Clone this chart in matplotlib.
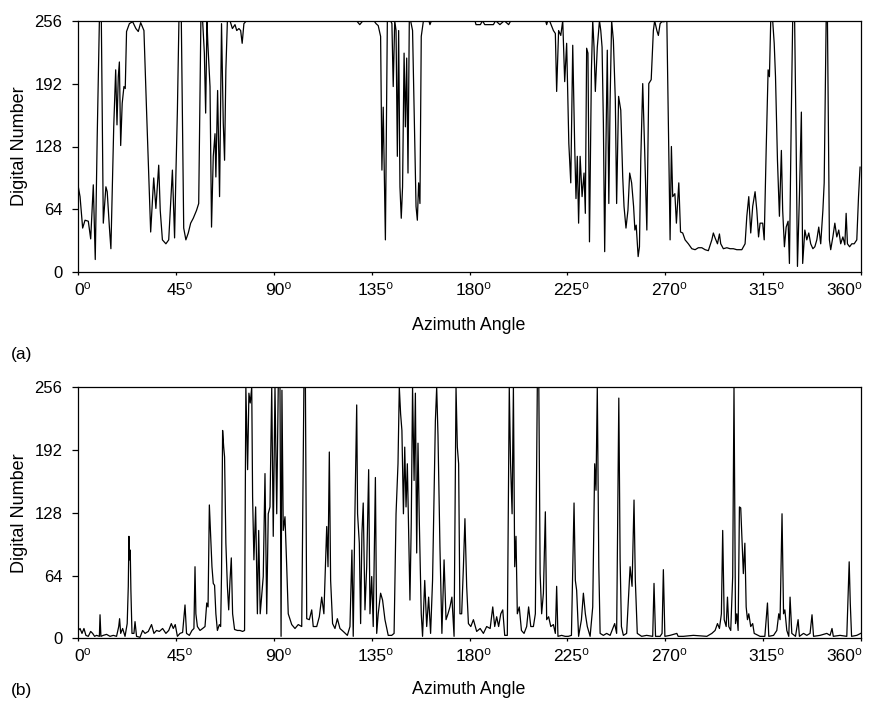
import numpy as np
import matplotlib
matplotlib.use("Agg")
import matplotlib.pyplot as plt
import matplotlib.transforms as mtransforms

plt.rcParams['font.family'] = ['Liberation Sans', 'DejaVu Sans']

# (a) azimuth angle (deg) / digital number
angle_a = [0, 0.8, 2.0, 3.1, 4.6, 5.7, 6.9, 7.8, 8.7, 9.7, 10.6, 11.5, 12.7, 13.3, 14.3, 15.0,
           16.3, 17.2, 17.8, 18.4, 18.9, 19.5, 20.2, 21.0, 21.6, 22.2, 23.5, 25.0, 26.5, 27.6,
           28.7, 30.2, 31.4, 33.3, 34.7, 35.7, 37.0, 37.7, 38.7, 40.3, 41.6, 43.3, 44.3, 44.9,
           45.6, 46.3, 47.4, 48.5, 49.5, 50.6, 51.7, 52.9, 54.4, 55.4, 56.4, 57.2, 58.0, 58.6,
           59.2, 59.6, 60.6, 61.3, 62.1, 62.9, 63.3, 64.1, 65.0, 65.9, 66.7, 67.3, 67.9, 68.6,
           69.8, 70.9, 72.1, 72.9, 73.9, 74.7, 75.4, 76.2, 77.4, 100, 128, 129.5, 131, 136,
           137, 138.0, 139.1, 139.7, 140.3, 141.3, 142.2, 143.1, 143.7, 144.3, 144.9, 145.6,
           146.2, 146.8, 147.4, 148.0, 148.6, 149.2, 149.9, 150.5, 151.1, 151.7, 152.3, 152.9,
           153.8, 154.8, 155.4, 156.0, 156.6, 157.2, 157.8, 158.8, 161.3, 161.8, 162.5, 182.5,
           183, 185, 186, 187, 191, 192, 194, 196, 198, 199, 215, 215.5, 216, 217.0, 218.6,
           219.5, 220.1, 221.0, 222.0, 222.9, 223.8, 224.7, 225.7, 226.6, 227.5, 228.4, 229.0,
           229.6, 230.2, 230.9, 231.8, 232.7, 233.3, 233.9, 234.5, 235.2, 236.1, 236.7, 237.3,
           237.9, 238.8, 239.8, 240.4, 241.0, 241.6, 242.2, 242.8, 243.4, 244.1, 244.7, 245.4,
           246.2, 247.1, 247.7, 248.6, 249.6, 250.5, 251.1, 252.0, 252.9, 253.7, 254.6, 255.5,
           256.1, 256.7, 257.6, 258.2, 258.8, 259.7, 260.6, 261.6, 262.5, 263.6, 264.6, 265.2,
           266.2, 266.9, 267.7, 268.5, 269.5, 270.8, 271.4, 272.3, 272.9, 273.5, 274.5, 275.2,
           276.3, 277.1, 278.1, 279.2, 280.7, 282.3, 283.8, 285.3, 286.9, 288.4, 289.9, 291.5,
           292.2, 293.0, 294.1, 295.0, 295.6, 296.8, 298.4, 299.9, 301.4, 303.0, 305.3, 306.8,
           307.6, 308.5, 309.4, 310.3, 311.4, 312.2, 313.0, 313.7, 314.9, 315.6, 316.5, 317.4,
           318.0, 318.6, 319.5, 320.2, 320.8, 321.7, 322.6, 323.5, 324.1, 324.9, 325.7, 326.6,
           327.2, 328.1, 328.7, 329.6, 330.3, 330.9, 331.8, 332.7, 333.3, 334.3, 335.2, 336.1,
           337.0, 338.0, 338.9, 339.8, 340.7, 341.6, 342.6, 343.2, 344.1, 344.7, 345.6, 346.2,
           347.2, 348.1, 349.0, 349.9, 350.8, 351.8, 352.7, 353.3, 353.9, 354.9, 355.9, 357.0,
           358.2, 359.0, 359.7]
dn_a = [87, 77, 45, 53, 52, 34, 89, 13, 138, 256, 256, 50, 87, 82, 46, 24,
        148, 206, 150, 199, 214, 129, 172, 189, 187, 245, 253, 255, 248, 245,
        254, 246, 165, 41, 96, 65, 109, 63, 33, 29, 33, 104, 35, 99,
        165, 256, 256, 45, 33, 40, 50, 55, 63, 70, 256, 256, 223, 162,
        256, 233, 189, 46, 118, 141, 97, 185, 77, 253, 152, 114, 206, 256,
        256, 248, 252, 246, 248, 246, 233, 253, 256, 256, 256, 252, 256, 256,
        253, 251, 240, 104, 168, 33, 256, 256, 256, 253, 189, 256,
        246, 118, 246, 87, 55, 87, 223, 148, 218, 101, 256, 256,
        246, 131, 67, 53, 91, 70, 240, 256, 256, 252, 256, 256,
        252, 252, 256, 252, 252, 256, 252, 256, 252, 256, 256, 252, 256, 255, 246,
        243, 184, 246, 241, 256, 194, 233, 131, 91, 231, 128, 75,
        118, 50, 118, 77, 101, 60, 228, 223, 31, 206, 256, 229,
        184, 229, 256, 246, 229, 152, 21, 131, 226, 70, 175, 256,
        236, 175, 70, 179, 165, 97, 67, 45, 63, 101, 91, 67,
        43, 48, 16, 26, 114, 192, 124, 43, 192, 196, 246, 256,
        246, 241, 253, 255, 255, 256, 165, 33, 128, 77, 80, 50,
        91, 41, 40, 33, 29, 24, 23, 25, 25, 23, 22, 33,
        40, 35, 29, 39, 29, 24, 25, 24, 24, 23, 23, 29,
        57, 77, 40, 67, 82, 63, 36, 50, 50, 33, 124, 206,
        199, 256, 256, 233, 199, 114, 57, 124, 63, 26, 46, 52,
        9, 165, 256, 256, 131, 6, 77, 163, 9, 43, 33, 40,
        29, 24, 26, 33, 46, 29, 63, 91, 256, 256, 33, 23,
        36, 50, 36, 43, 29, 36, 28, 60, 29, 26, 29, 29,
        33, 77, 107]

# (b)
angle_b = [0, 0.8, 1.7, 2.6, 3.5, 4.6, 5.7, 6.6, 7.5, 8.4, 9.7, 10.0, 10.4, 11.5, 13.0, 14.6,
           16.1, 17.6, 18.6, 19.0, 19.5, 20.4, 21.5, 22.5, 23.0, 23.3, 23.6, 23.9, 24.2, 24.7,
           25.6, 26.1, 26.8, 28.4, 29.6, 30.7, 32.2, 33.7, 34.8, 36.0, 37.3, 38.8, 40.3, 41.6,
           42.8, 43.7, 44.6, 45.6, 46.8, 48.0, 49.1, 49.8, 51.1, 52.3, 53.2, 53.7, 54.1, 54.8,
           56.0, 57.2, 58.3, 59.1, 59.7, 60.3, 60.9, 61.5, 62.1, 62.7, 63.3, 64.0, 64.9, 65.5,
           65.9, 66.4, 66.9, 67.3, 67.9, 68.6, 69.2, 69.8, 70.4, 71.0, 71.9, 73.2, 74.4, 75.6,
           76.5, 77.1, 77.9, 78.5, 79.1, 79.8, 80.2, 80.8, 81.6, 82.4, 83.0, 83.7, 85.1, 85.9,
           86.7, 87.4, 88.2, 89.0, 89.7, 90.5, 91.3, 92.0, 92.8, 93.3, 93.7, 94.3, 95.1, 95.9,
           96.6, 98.2, 99.7, 101.2, 102.8, 103.8, 104.5, 105.1, 106.3, 107.4, 108.1, 109.7,
           110.9, 112.0, 113.0, 114.3, 114.9, 115.5, 116.1, 117.0, 118.1, 119.2, 120.4, 121.9,
           123.8, 125.0, 125.9, 126.5, 127.2, 128.1, 128.5, 129.3, 129.9, 130.5, 131.1, 131.9,
           132.7, 133.6, 134.2, 135.0, 135.7, 136.7, 137.3, 138.0, 139.1, 140.0, 141.1, 142.6,
           144.2, 145.3, 146.2, 147.1, 147.7, 148.3, 148.9, 149.6, 150.2, 150.8, 151.4, 152.0,
           152.6, 153.2, 153.8, 154.5, 155.1, 155.7, 156.3, 156.9, 157.8, 158.4, 159.4, 160.3,
           161.2, 162.1, 163.0, 163.7, 164.3, 164.9, 165.5, 166.4, 167.3, 168.3, 169.2, 170.1,
           171.0, 171.9, 172.9, 173.8, 174.4, 175.0, 175.6, 176.4, 177.2, 177.9, 178.7, 179.5,
           180.6, 181.8, 183.3, 184.9, 186.4, 187.9, 189.5, 190.7, 191.6, 192.5, 193.4, 194.4,
           195.3, 196.2, 197.4, 198.3, 198.9, 199.6, 200.2, 200.8, 201.4, 202.0, 202.9, 203.9,
           205.1, 206.3, 207.2, 208.2, 209.4, 210.3, 211.2, 211.9, 212.5, 213.2, 214.0, 214.9,
           215.5, 216.4, 217.4, 218.6, 219.5, 220.1, 220.7, 222.4, 224.0, 225.5, 226.9, 228.1,
           228.7, 229.3, 230.2, 231.5, 232.4, 233.3, 234.2, 235.5, 236.7, 237.6, 238.2, 238.8,
           239.5, 240.1, 241.6, 243.1, 244.7, 246.8, 247.7, 248.7, 249.3, 249.9, 250.8, 252.3,
           253.9, 254.8, 255.7, 256.3, 257.2, 259.2, 261.5, 264.3, 264.9, 265.6, 267.7, 268.6,
           269.2, 269.9, 272.3, 275.4, 276.0, 278.4, 283.0, 289.2, 291.5, 293.0, 294.1, 295.0,
           295.9, 296.5, 297.2, 298.1, 298.7, 299.3, 300.2, 301.1, 301.7, 302.4, 303.0, 303.6,
           304.2, 304.8, 305.4, 306.0, 306.7, 307.3, 307.9, 308.5, 309.4, 310.3, 311.0, 313.7,
           315.9, 317.1, 317.7, 319.9, 321.4, 322.3, 322.9, 323.8, 324.5, 325.1, 326.0, 326.9,
           327.5, 328.3, 330.0, 331.2, 331.8, 333.7, 335.2, 336.7, 337.6, 338.3, 341.3, 344.4,
           345.9, 346.8, 347.4, 350.5, 353.6, 354.7, 355.2, 355.8, 358.2, 360.0]
dn_b = [8, 10, 5, 10, 3, 2, 7, 5, 2, 3, 2, 24, 2, 3, 4, 2,
        3, 2, 12, 20, 5, 10, 2, 15, 53, 104, 80, 90, 49, 5,
        5, 17, 2, 1, 8, 5, 7, 14, 5, 8, 7, 10, 5, 8,
        15, 10, 14, 2, 5, 6, 34, 5, 3, 8, 10, 73, 25, 12,
        8, 10, 12, 36, 32, 136, 104, 73, 56, 54, 25, 8, 14, 12,
        66, 212, 195, 185, 97, 53, 29, 59, 82, 25, 9, 8, 8, 7,
        8, 256, 172, 250, 240, 256, 144, 80, 134, 25, 110, 25, 63, 168,
        25, 127, 134, 256, 104, 256, 127, 256, 256, 2, 253, 110, 124, 73,
        25, 14, 10, 14, 12, 256, 256, 20, 19, 29, 12, 12,
        22, 42, 25, 114, 73, 190, 59, 15, 10, 20, 10, 7,
        3, 12, 90, 2, 117, 238, 127, 97, 15, 107, 138, 29,
        73, 172, 25, 63, 12, 164, 5, 25, 46, 39, 19, 3,
        3, 5, 127, 178, 256, 229, 212, 127, 195, 134, 178, 110,
        39, 117, 256, 161, 250, 87, 199, 120, 25, 2, 59, 12,
        42, 5, 59, 144, 222, 256, 207, 93, 5, 80, 19, 25,
        32, 42, 2, 256, 195, 178, 25, 25, 73, 122, 53, 15,
        12, 19, 7, 10, 5, 12, 10, 32, 12, 22, 12, 25,
        29, 3, 3, 256, 178, 127, 256, 73, 104, 25, 32, 8,
        5, 12, 32, 12, 12, 25, 256, 256, 66, 25, 46, 129,
        19, 22, 12, 14, 5, 53, 2, 3, 2, 2, 3, 138,
        59, 49, 2, 19, 46, 25, 12, 2, 32, 178, 151, 256,
        73, 5, 3, 5, 3, 15, 5, 245, 80, 12, 3, 5,
        73, 53, 141, 59, 5, 2, 3, 2, 56, 2, 2, 5,
        70, 2, 3, 5, 2, 2, 3, 2, 5, 8, 15, 10,
        25, 110, 19, 12, 42, 12, 8, 63, 256, 15, 25, 8,
        134, 133, 100, 66, 97, 32, 19, 25, 12, 15, 5, 2,
        2, 36, 2, 3, 8, 25, 19, 127, 25, 29, 8, 2,
        42, 5, 2, 19, 2, 5, 3, 5, 24, 2, 3, 5,
        3, 10, 2, 3, 2, 78, 36, 2, 3, 5]

xticks = [0, 45, 90, 135, 180, 225, 270, 315, 360]
xtick_labels = ['0\u2070', '45\u2070', '90\u2070', '135\u2070', '180\u2070',
                '225\u2070', '270\u2070', '315\u2070', '360\u2070']
yticks = [0, 64, 128, 192, 256]

W, H = 872, 701
fig = plt.figure(figsize=(W / 100, H / 100), dpi=100)
ax_a = fig.add_axes([78.3 / W, 1 - 272.3 / H, (860.7 - 78.3) / W, (272.3 - 20.7) / H])
ax_b = fig.add_axes([78.3 / W, 1 - 638.3 / H, (860.7 - 78.3) / W, (638.3 - 387.3) / H])

for ax, x, y in [(ax_a, angle_a, dn_a), (ax_b, angle_b, dn_b)]:
    ax.plot(x, y, color='black', lw=0.9)
    ax.set_xlim(0, 360)
    ax.set_ylim(0, 256)
    ax.set_xticks(xticks)
    ax.set_xticklabels(xtick_labels)
    ax.set_yticks(yticks)
    ax.tick_params(axis='y', direction='out', length=4, width=0.9, labelsize=12, pad=7.5)
    ax.tick_params(axis='x', direction='out', length=2.5, width=0.9, labelsize=12.5, pad=5)
    for s in ax.spines.values():
        s.set_linewidth(0.9)
    ax.set_ylabel('Digital Number', fontsize=13)
    ax.yaxis.set_label_coords(-50 / 782, 0.5)
    # digits centred on the tick, the last label pulled inside the figure
    for i, lab in enumerate(ax.get_xticklabels()):
        dx = 4 if i < len(xticks) - 1 else -16
        lab.set_transform(lab.get_transform() +
                          mtransforms.ScaledTranslation(dx / 100, 0, fig.dpi_scale_trans))

fig.text(469 / W, 1 - 326 / H, 'Azimuth Angle', fontsize=12.8, ha='center', va='center')
fig.text(469 / W, 1 - 690 / H, 'Azimuth Angle', fontsize=12.8, ha='center', va='center')
fig.text(11 / W, 1 - 354 / H, '(a)', fontsize=12.5, ha='left', va='center')
fig.text(11 / W, 1 - 690 / H, '(b)', fontsize=12.5, ha='left', va='center')

fig.savefig('out.png', dpi=100)
